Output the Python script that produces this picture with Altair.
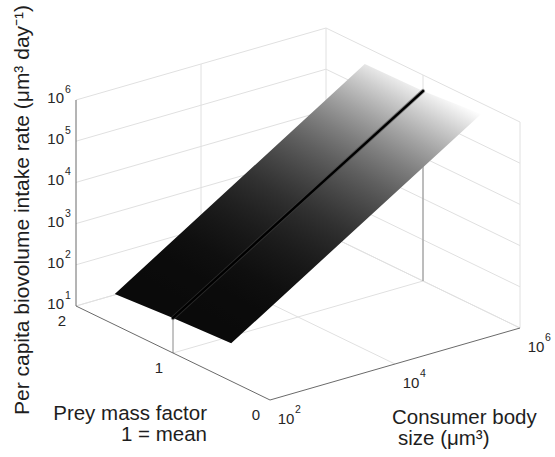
import math
import numpy as np
import pandas as pd
import altair as alt

# ---------------- data ----------------
surface_prey = [0.4, 1.0, 1.6]                       # prey mass factor rows of the surface
surface_size = [1e2, 1e6]                            # consumer body size (um^3), ends of surface
surface_intake_small = [10**1.92, 10**1.85, 10**1.75]  # intake at size 1e2 for each prey row
surface_intake_large = [10**5.74, 10**5.61, 10**5.58]  # intake at size 1e6 for each prey row
mean_prey = [1.0, 1.0]
mean_size = [1e2, 1e6]
mean_intake = [10**1.85, 10**5.61]
z_ticks = [1e1, 1e2, 1e3, 1e4, 1e5, 1e6]
size_ticks = [1e2, 1e4, 1e6]
prey_ticks = [0, 1, 2]

# ---------------- 3-D axes box (layout) ----------------
ORIGIN = (270.0, 400.0)     # screen point of (prey 0, size 1e2, intake 1e1)
PREY_VEC = (-97.0, -47.0)   # per unit prey factor
SIZE_VEC = (62.5, -18.0)    # per decade of body size
Z_VEC = (0.0, -41.2)        # per decade of intake
P_MIN, P_MAX = min(prey_ticks), max(prey_ticks)
S_MIN, S_MAX = min(size_ticks), max(size_ticks)
Z_MIN, Z_MAX = min(z_ticks), max(z_ticks)


def proj(p, s, z):
    a = math.log10(s) - math.log10(S_MIN)
    b = math.log10(z) - math.log10(Z_MIN)
    x = ORIGIN[0] + PREY_VEC[0] * p + SIZE_VEC[0] * a + Z_VEC[0] * b
    y = ORIGIN[1] + PREY_VEC[1] * p + SIZE_VEC[1] * a + Z_VEC[1] * b
    return float(x), float(y)


def seg_rows(segs, kind):
    rows = []
    for (p1, s1, z1), (p2, s2, z2) in segs:
        x, y = proj(p1, s1, z1)
        x2, y2 = proj(p2, s2, z2)
        rows.append(dict(x=x, y=y, x2=x2, y2=y2, kind=kind))
    return rows


# grid lines on the back walls and floor
grid = []
for z in z_ticks:
    grid.append(((P_MAX, S_MIN, z), (P_MAX, S_MAX, z)))
    grid.append(((P_MAX, S_MAX, z), (P_MIN, S_MAX, z)))
for s in size_ticks[1:]:
    grid.append(((P_MAX, s, Z_MIN), (P_MAX, s, Z_MAX)))
    grid.append(((P_MIN, s, Z_MIN), (P_MAX, s, Z_MIN)))
for p in prey_ticks[:-1]:
    grid.append(((p, S_MAX, Z_MIN), (p, S_MAX, Z_MAX)))
for p in prey_ticks[1:]:
    grid.append(((p, S_MIN, Z_MIN), (p, S_MAX, Z_MIN)))
grid_df = pd.DataFrame(seg_rows(grid, "grid"))

axes = [((P_MAX, S_MIN, Z_MIN), (P_MAX, S_MIN, Z_MAX)),
        ((P_MAX, S_MIN, Z_MIN), (P_MIN, S_MIN, Z_MIN)),
        ((P_MIN, S_MIN, Z_MIN), (P_MIN, S_MAX, Z_MIN))]
axes_df = pd.DataFrame(seg_rows(axes, "axis"))

drops = [((mean_prey[i], mean_size[i], mean_intake[i]), (mean_prey[i], mean_size[i], Z_MIN))
         for i in range(len(mean_size))]
drop_df = pd.DataFrame(seg_rows(drops, "drop"))

mean_pts = [proj(mean_prey[i], mean_size[i], mean_intake[i]) for i in range(len(mean_size))]
mean_df = pd.DataFrame(dict(x=[p[0] for p in mean_pts], y=[p[1] for p in mean_pts],
                            order=list(range(len(mean_pts)))))

# ---------------- surface polygon ----------------
n_rows = len(surface_prey)
bottom = [proj(surface_prey[i], surface_size[0], surface_intake_small[i]) for i in range(n_rows)]
top = [proj(surface_prey[i], surface_size[1], surface_intake_large[i]) for i in range(n_rows)]
ring = list(reversed(bottom)) + top + [bottom[-1]]
surface_feature = {
    "type": "Feature",
    "geometry": {"type": "Polygon", "coordinates": [[list(pt) for pt in ring]]},
    "properties": {},
}

# shading gradient (gray colormap on intake, lighter for larger intake);
# linear-gradient coordinates are in the polygon's normalised bounding box
xs = [pt[0] for pt in ring]
ys = [pt[1] for pt in ring]
bx0, by0 = min(xs), min(ys)
W, H = max(xs) - bx0, max(ys) - by0


def nrm(pt):
    return np.array([(pt[0] - bx0) / W, (pt[1] - by0) / H])


Ls = [math.log10(v) for v in surface_intake_small]
Ll = [math.log10(v) for v in surface_intake_large]
BL, BR = np.array(bottom[-1]), np.array(bottom[0])
TL, TR = np.array(top[-1]), np.array(top[0])
f = (Ls[0] - Ls[-1]) / (Ll[-1] - Ls[-1])
Q = BL + f * (TL - BL)          # point on the far edge with the same intake as BR
D = BR - Q                      # iso-intake direction on screen
d = np.array([D[0] / W, D[1] / H])
nvec = np.array([d[1], -d[0]])
nvec = nvec / np.linalg.norm(nvec)
if np.dot(nrm(TR) - nrm(BR), nvec) < 0:
    nvec = -nvec
svals = [float(np.dot(nrm(pt), nvec)) for pt in ring]
s_min, s_max = min(svals), max(svals)
s_BR, s_TR = float(np.dot(nrm(BR), nvec)), float(np.dot(nrm(TR), nvec))
k = (Ll[0] - Ls[0]) / (s_TR - s_BR)
Lmax = max(Ll)
L_DARK = 2.0      # lower colour limit of the gray map (log10 intake)
CURVE = 2.4
FLOOR = 0.04
stops = []
for t in np.linspace(0, 1, 25):
    s = s_min + t * (s_max - s_min)
    L = Ls[0] + k * (s - s_BR)
    r = min(1.0, max(0.0, (L - L_DARK) / (Lmax - L_DARK)))
    g = FLOOR + (1 - FLOOR) * r ** CURVE
    c = int(round(g * 255))
    stops.append(alt.GradientStop(color="#%02x%02x%02x" % (c, c, c), offset=float(t)))
A = s_min * nvec
B = s_max * nvec
gradient = alt.LinearGradient(gradient="linear", stops=stops,
                              x1=float(A[0]), y1=float(A[1]), x2=float(B[0]), y2=float(B[1]))

# ---------------- tick labels ----------------
def label_df(points, ticks):
    return pd.DataFrame(dict(
        x=[p[0] for p in points], y=[p[1] for p in points],
        exp=[str(int(round(math.log10(v)))) for v in ticks],
        base=["10"] * len(ticks)))


z_lab = label_df([proj(P_MAX, S_MIN, z) for z in z_ticks], z_ticks)
s_lab = label_df([proj(P_MIN, s, Z_MIN) for s in size_ticks], size_ticks)
p_pts = [proj(p, S_MIN, Z_MIN) for p in prey_ticks]
p_lab = pd.DataFrame(dict(x=[p[0] for p in p_pts], y=[p[1] for p in p_pts],
                          t=[str(p) for p in prey_ticks]))

FONT = "Liberation Sans"
TXT = "#262626"
X = lambda f: alt.X(f, type="quantitative", scale=None)
Y = lambda f: alt.Y(f, type="quantitative", scale=None)

def rules(df, color, width):
    return alt.Chart(df).mark_rule(color=color, strokeWidth=width).encode(
        x=X("x"), y=Y("y"), x2="x2", y2="y2")

grid_layer = rules(grid_df, "#e0e0e0", 1)
axes_layer = rules(axes_df, "#6a6a6a", 1)
drop_layer = rules(drop_df, "#8a8a8a", 1)

surface_layer = alt.Chart(alt.Data(values=[surface_feature])).mark_geoshape(
    fill=gradient, strokeWidth=0, fillOpacity=1
).project(type="identity", scale=1, translate=[0, 0])

mean_halo = alt.Chart(mean_df).mark_line(color="#444444", strokeWidth=4.2, opacity=0.55,
                                         strokeCap="round").encode(
    x=X("x"), y=Y("y"), order="order:Q")
mean_layer = alt.Chart(mean_df).mark_line(color="#000000", strokeWidth=2.4, strokeCap="round").encode(
    x=X("x"), y=Y("y"), order="order:Q")

z_base = alt.Chart(z_lab).mark_text(font=FONT, fontSize=15, align="right", baseline="middle",
                                    dx=-12, dy=-2, color=TXT).encode(x=X("x"), y=Y("y"), text="base:N")
z_exp = alt.Chart(z_lab).mark_text(font=FONT, fontSize=10.5, align="left", baseline="middle",
                                   dx=-11, dy=-10, color=TXT).encode(x=X("x"), y=Y("y"), text="exp:N")
s_base = alt.Chart(s_lab).mark_text(font=FONT, fontSize=15, align="center", baseline="middle",
                                    dx=16, dy=19, color=TXT).encode(x=X("x"), y=Y("y"), text="base:N")
s_exp = alt.Chart(s_lab).mark_text(font=FONT, fontSize=10.5, align="left", baseline="middle",
                                   dx=25, dy=10, color=TXT).encode(x=X("x"), y=Y("y"), text="exp:N")
p_text = alt.Chart(p_lab).mark_text(font=FONT, fontSize=15, align="center", baseline="middle",
                                    dx=-14, dy=15, color=TXT).encode(x=X("x"), y=Y("y"), text="t:N")

titles = pd.DataFrame(dict(
    t=["Prey mass factor", "1 = mean", "Consumer body", "size (\u03bcm\u00b3)"],
    x=[207, 207, 392, 398], y=[420, 441, 424, 445],
    a=["right", "right", "left", "left"]))
title_r = alt.Chart(titles[titles.a == "right"]).mark_text(
    font=FONT, fontSize=20.5, align="right", baseline="alphabetic", color="#1e1e1e").encode(
    x=X("x"), y=Y("y"), text="t:N")
title_l = alt.Chart(titles[titles.a == "left"]).mark_text(
    font=FONT, fontSize=20.5, align="left", baseline="alphabetic", color="#1e1e1e").encode(
    x=X("x"), y=Y("y"), text="t:N")
ztitle = alt.Chart(pd.DataFrame(dict(
    t=["Per capita biovolume intake rate (\u03bcm\u00b3 day\u207b\u00b9)"], x=[29], y=[210]))).mark_text(
    font=FONT, fontSize=21, align="center", baseline="alphabetic", angle=270, color="#1e1e1e").encode(
    x=X("x"), y=Y("y"), text="t:N")

chart = alt.layer(
    grid_layer, drop_layer, surface_layer, mean_halo, mean_layer, axes_layer,
    z_base, z_exp, s_base, s_exp, p_text, title_r, title_l, ztitle
).properties(
    width=555, height=457, padding=0, autosize=alt.AutoSizeParams(type="none")
).configure_view(stroke=None)

chart.save("out.html", embed_options={"renderer": "svg", "actions": False})
